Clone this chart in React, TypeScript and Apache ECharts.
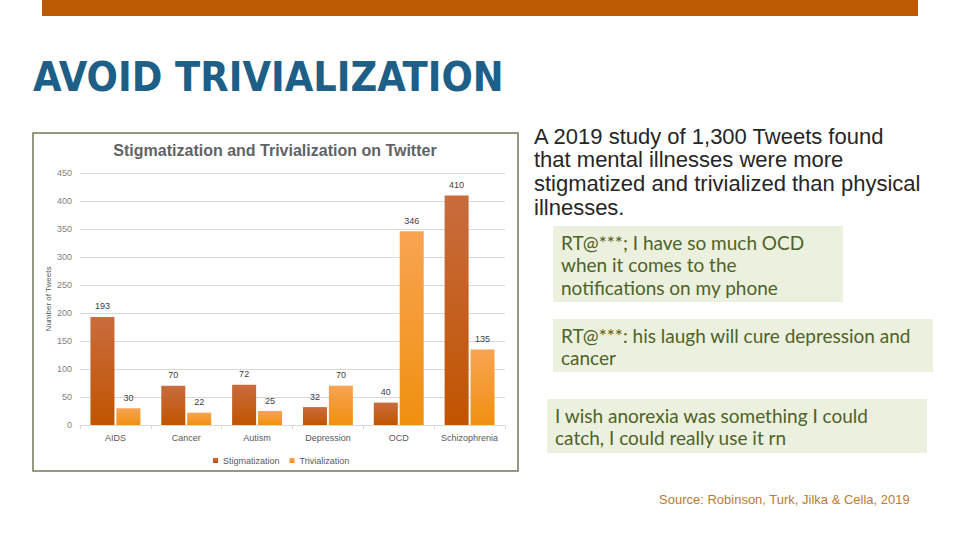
import React, { useEffect, useRef } from "react";
import * as echarts from "echarts";

const categories = ["AIDS", "Cancer", "Autism", "Depression", "OCD", "Schizophrenia"];
const stigmatization = [193, 70, 72, 32, 40, 410];
const trivialization = [30, 22, 25, 70, 346, 135];
const seriesNames = ["Stigmatization", "Trivialization"];

const slideTitle = "AVOID TRIVIALIZATION";
const chartTitle = "Stigmatization and Trivialization on Twitter";
const yAxisName = "Number of Tweets";
const summaryLines = [
  "A 2019 study of 1,300 Tweets found",
  "that mental illnesses were more",
  "stigmatized and trivialized than physical",
  "illnesses.",
];
const quote1 = ["RT@***; I have so much OCD", "when it comes to the", "notifications on my phone"];
const quote2 = ["RT@***: his laugh will cure depression and", "cancer"];
const quote3 = ["I wish anorexia was something I could", "catch, I could really use it rn"];
const sourceText = "Source: Robinson, Turk, Jilka & Cella, 2019";

const lines = (arr: string[], x: number, y0: number, lh: number, style: any) =>
  arr.map((t, i) => ({
    type: "text",
    x,
    y: y0 + i * lh,
    style: { text: t, textVerticalAlign: "middle", ...style },
  }));

export default function App() {
  const ref = useRef<HTMLDivElement>(null);
  useEffect(() => {
    document.body.style.margin = "0";
    const chart = echarts.init(ref.current!, undefined, { renderer: "svg" });
    const quoteStyle = { font: '19px Lato, "Open Sans", sans-serif', fill: "#4F6228" };
    const ff = '"Liberation Sans", Arial, sans-serif';
    const option: any = {
      animation: false,
      backgroundColor: "#FFFFFF",
      grid: { left: 80, right: 455, top: 173, bottom: 115 },
      legend: {
        data: seriesNames,
        left: 208,
        top: 451,
        itemWidth: 5,
        itemHeight: 5,
        itemGap: 10,
        icon: "rect",
        textStyle: { fontSize: 9, color: "#595959", fontFamily: ff },
      },
      xAxis: {
        type: "category",
        data: categories,
        axisLine: { lineStyle: { color: "#D9D9D9" } },
        axisTick: { show: true, length: 4, lineStyle: { color: "#D9D9D9" } },
        axisLabel: { interval: 0, fontSize: 9, color: "#595959", margin: 8, fontFamily: ff },
      },
      yAxis: {
        type: "value",
        min: 0,
        max: 450,
        interval: 50,
        name: yAxisName,
        nameLocation: "middle",
        nameGap: 28,
        nameTextStyle: { fontSize: 8, color: "#595959", fontFamily: ff },
        axisLine: { show: false },
        axisTick: { show: false },
        splitLine: { lineStyle: { color: "#D9D9D9" } },
        axisLabel: { fontSize: 9, color: "#7F7F7F", margin: 8, fontFamily: ff },
      },
      series: [
        {
          name: seriesNames[0],
          type: "bar",
          data: stigmatization,
          barWidth: 24,
          barGap: "8%",
          itemStyle: {
            color: new echarts.graphic.LinearGradient(0, 0, 0, 1, [
              { offset: 0, color: "#C96C3E" },
              { offset: 1, color: "#C05400" },
            ]),
          },
          label: { show: true, position: "top", distance: 6, fontSize: 9, color: "#404040", fontFamily: ff },
        },
        {
          name: seriesNames[1],
          type: "bar",
          data: trivialization,
          barWidth: 24,
          itemStyle: {
            color: new echarts.graphic.LinearGradient(0, 0, 0, 1, [
              { offset: 0, color: "#F8A452" },
              { offset: 1, color: "#F09010" },
            ]),
          },
          label: { show: true, position: "top", distance: 6, fontSize: 9, color: "#404040", fontFamily: ff },
        },
      ],
      graphic: [
        { type: "rect", z: -10, shape: { x: 42, y: 0, width: 876, height: 16 }, style: { fill: "#BE5A04" } },
        {
          type: "text",
          x: 33,
          y: 77,
          style: {
            text: slideTitle,
            textVerticalAlign: "middle",
            font: 'bold 41px "Liberation Sans Narrow", "DejaVu Sans Condensed", sans-serif',
            fill: "#1D5F87",
          },
        },
        {
          type: "rect",
          z: -10,
          shape: { x: 33, y: 133, width: 485, height: 338 },
          style: { fill: "#FFFFFF", stroke: "#76765A", lineWidth: 1.5 },
        },
        {
          type: "text",
          x: 275,
          y: 150,
          style: {
            text: chartTitle,
            textAlign: "center",
            textVerticalAlign: "middle",
            font: 'bold 16px "Liberation Sans", Arial, sans-serif',
            fill: "#5F6368",
          },
        },
        ...lines(summaryLines, 534, 136, 23.8, { font: '22px "Liberation Sans", Arial, sans-serif', fill: "#262626" }),
        { type: "rect", z: -10, shape: { x: 553, y: 226, width: 290, height: 76 }, style: { fill: "#EBF1DE" } },
        ...lines(quote1, 561, 242, 22.5, quoteStyle),
        { type: "rect", z: -10, shape: { x: 553, y: 319, width: 380, height: 53 }, style: { fill: "#EBF1DE" } },
        ...lines(quote2, 561, 335, 22.5, quoteStyle),
        { type: "rect", z: -10, shape: { x: 547, y: 399, width: 380, height: 54 }, style: { fill: "#EBF1DE" } },
        ...lines(quote3, 555, 415, 22.5, quoteStyle),
        {
          type: "text",
          x: 659,
          y: 499,
          style: {
            text: sourceText,
            textVerticalAlign: "middle",
            font: '13px "Liberation Sans", Arial, sans-serif',
            fill: "#BE7A33",
          },
        },
      ],
    };
    chart.setOption(option);
    return () => chart.dispose();
  }, []);
  return <div ref={ref} style={{ width: 960, height: 540, position: "absolute", left: 0, top: 0 }} />;
}
